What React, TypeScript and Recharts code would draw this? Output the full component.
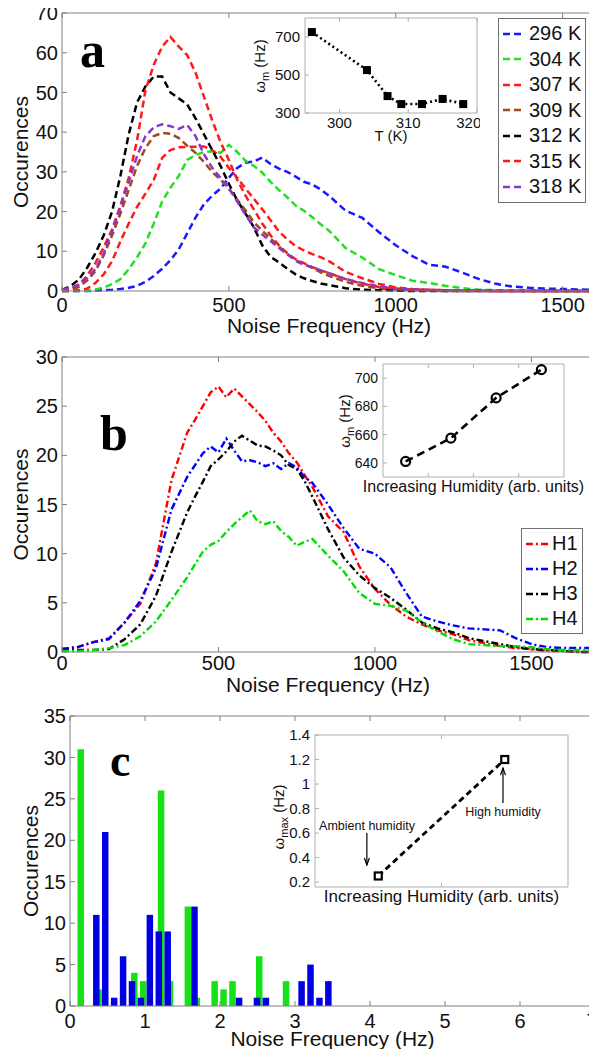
import React from 'react';
import { LineChart, Line, BarChart, Bar, XAxis, YAxis, Legend, ReferenceLine } from 'recharts';

const SANS = '"Liberation Sans", Arial, Helvetica, sans-serif';
const SERIF = '"Liberation Serif", "Times New Roman", serif';
const FRAME = '#808080';
const LIGHT = '#b0b0b0';
const INK = '#111';

// ---- panel a: occurrence histograms at several temperatures
const freqA = [0, 25, 50, 75, 100, 125, 150, 175, 200, 225, 250, 275, 300, 325, 350, 375, 400, 425, 450, 475, 500, 525, 550, 575, 600, 625, 650, 675, 700, 725, 750, 775, 800, 850, 900, 950, 1000, 1050, 1100, 1150, 1200, 1250, 1300, 1350, 1400, 1450, 1500, 1550, 1600];
const occ296 = [0, 0, 0, 0, 0.1, 0.2, 0.3, 0.5, 0.8, 1.3, 2.3, 3.8, 5.6, 7.8, 10.5, 14.5, 18.5, 21.8, 24, 25.8, 28.5, 31, 32.3, 32.6, 33.6, 32, 30.8, 30, 28.8, 27.5, 26.8, 25.6, 24, 20.2, 18.4, 14.8, 11.5, 8.8, 6.6, 6.1, 4.6, 3, 1.8, 1.1, 0.8, 0.6, 0.5, 0.4, 0.3];
const occ304 = [0, 0, 0, 0.1, 0.4, 0.9, 1.7, 3, 5.5, 8.5, 12, 17, 22.5, 26, 29, 33, 34.2, 35, 35.2, 34.8, 36.8, 35, 32.8, 31.5, 29.8, 27.5, 25.4, 23.6, 21.5, 20.2, 18.6, 16.8, 15.2, 10.8, 8.4, 5.5, 4, 2.6, 2, 1.3, 0.7, 0.3, 0.2, 0.1, 0.1, 0, 0, 0, 0];
const occ307 = [0, 0, 0.2, 0.6, 2, 4.2, 7.5, 12.5, 17, 21.2, 24.5, 28, 33.5, 35.5, 36.2, 36.3, 36.3, 36.4, 35.5, 33.8, 31, 28.5, 25.8, 23.2, 20.6, 17.8, 15, 13, 11.3, 10.2, 9.3, 8.5, 7.5, 4.8, 3.2, 1.8, 0.9, 0.5, 0.3, 0.2, 0.1, 0.1, 0, 0, 0, 0, 0, 0, 0];
const occ309 = [0, 0.4, 1, 2.6, 5, 9, 14, 19.5, 25.5, 31.5, 36, 39, 39.8, 39.6, 38.5, 36.6, 34.8, 32.5, 30, 28, 25.7, 23, 20.3, 17.3, 15.2, 13.2, 11.2, 9.3, 7.8, 6.8, 5.8, 4.7, 3.8, 2.3, 1.3, 0.7, 0.3, 0.2, 0.1, 0, 0, 0, 0, 0, 0, 0, 0, 0, 0];
const occ312 = [0.3, 1.2, 2.8, 5.8, 9.5, 14, 20, 29, 39.5, 47.5, 51.5, 54, 54, 50, 48.5, 47, 43.5, 39.5, 35.5, 31.5, 27, 22.8, 19.5, 16, 11.5, 8.6, 7.2, 5.6, 4.2, 3.2, 2.5, 1.9, 1.5, 0.7, 0.3, 0.2, 0.1, 0, 0, 0, 0, 0, 0, 0, 0, 0, 0, 0, 0];
const occ315 = [0, 0.5, 1.5, 3.8, 7, 11, 15.5, 21.5, 28.5, 38, 50.5, 57, 61.5, 64, 61.5, 59.4, 55, 49, 43, 37.5, 33, 28, 24, 20.5, 17, 14, 11.5, 9.5, 8, 7, 6, 5.2, 4.5, 3, 1.8, 1, 0.6, 0.4, 0.3, 0.2, 0.1, 0.1, 0, 0, 0, 0, 0, 0, 0];
const occ318 = [0.3, 0.8, 1.6, 3.2, 5.5, 9.5, 15, 21, 27.5, 34, 39, 41.2, 42, 41.5, 40.8, 41.8, 39, 34.5, 31, 28.5, 26, 22.5, 19.2, 16, 14.2, 12.6, 10.8, 9.3, 7.6, 6.6, 6, 5.2, 4.5, 3, 2, 1.2, 0.6, 0.4, 0.2, 0.1, 0, 0, 0, 0, 0, 0, 0, 0, 0];
const tempNames = ['296 K', '304 K', '307 K', '309 K', '312 K', '315 K', '318 K'];
const tempKeys = ['t296', 't304', 't307', 't309', 't312', 't315', 't318'];
const tempColors = ['#1a1aff', '#22e022', '#ff1a1a', '#a0481e', '#000000', '#ff1a1a', '#8a38c8'];
const tempSeries = [occ296, occ304, occ307, occ309, occ312, occ315, occ318];

// inset a: mean frequency vs temperature
const tempK = [296, 304, 307, 309, 312, 315, 318];
const omegaA = [726, 526, 389, 347, 347, 374, 347];

// ---- panel b: humidity series
const freqB = [0, 50, 100, 150, 200, 250, 300, 350, 400, 425, 450, 475, 500, 525, 550, 575, 600, 625, 650, 675, 700, 725, 750, 775, 800, 850, 900, 950, 1000, 1050, 1100, 1150, 1200, 1250, 1300, 1350, 1400, 1450, 1500, 1550, 1600, 1650, 1700];
const occH1 = [0.3, 0.5, 1, 1.4, 3, 4.9, 9, 17.5, 22.3, 23.6, 25, 26.4, 27, 25.9, 26.8, 26, 25.2, 24.4, 23.5, 22.3, 21.4, 20.2, 19.3, 18, 16.8, 13.8, 12.2, 8.7, 6.4, 4.8, 3.6, 2.8, 2.2, 1.8, 1.2, 0.9, 0.6, 0.4, 0.3, 0.1, 0.1, 0, 0];
const occH2 = [0.3, 0.5, 1, 1.3, 3, 5.2, 8.5, 14.5, 17.8, 19, 20.2, 20.9, 20.3, 21.7, 20.5, 19.4, 19.5, 19.3, 18.9, 19.2, 18.6, 19.2, 18.8, 17.8, 17.2, 15, 12.6, 10.5, 10, 8.6, 6, 3.6, 3.1, 2.7, 2.4, 2.3, 2.2, 1.4, 0.8, 0.5, 0.4, 0.4, 0.4];
const occH3 = [0.2, 0.2, 0.2, 0.3, 1.3, 2.8, 5.7, 10.2, 14.2, 15.8, 17.3, 18.9, 19.6, 20.4, 21.4, 22, 21.5, 21, 20.9, 20.5, 20, 19, 18.6, 17.4, 15.8, 12.5, 9.6, 7.8, 6.5, 5.5, 4.3, 3, 2.4, 2, 1.4, 1.1, 0.8, 0.5, 0.3, 0.2, 0.1, 0, 0];
const occH4 = [0.1, 0.1, 0.2, 0.4, 0.7, 1.6, 3.1, 5.3, 7.6, 8.9, 10.2, 10.9, 11.3, 12.2, 13, 13.7, 14.4, 13.3, 13, 13.3, 12.3, 11.7, 10.8, 11.2, 11.5, 9.8, 8.2, 6, 4.9, 4.7, 4.2, 3, 2.1, 1.3, 0.8, 0.7, 0.6, 0.6, 0.5, 0.3, 0.2, 0.2, 0.2];
const humNames = ['H1', 'H2', 'H3', 'H4'];
const humKeys = ['h1', 'h2', 'h3', 'h4'];
const humColors = ['#ff0000', '#0000ff', '#000000', '#00dd00'];
const humSeries = [occH1, occH2, occH3, occH4];

// inset b
const humStep = [1, 2, 3, 4];
const omegaB = [641, 657.5, 686, 706];

// ---- panel c: low-frequency histogram (ambient = green, high humidity = blue)
const binC = [0.133, 0.371, 0.49, 0.609, 0.728, 0.847, 0.966, 1.085, 1.204, 1.323, 1.561, 1.68, 1.918, 2.037, 2.156, 2.275, 2.513, 2.632, 2.87, 3.108, 3.227, 3.346, 3.465];
const greenC = [31, 2, 0, 0, 0, 4, 3, 0, 26, 3, 12, 1, 3, 2, 3, 0, 6, 0, 3, 0, 0, 0, 0];
const blueC = [0, 11, 21, 1, 6, 3, 1, 11, 9, 9, 0, 12, 0, 0, 0, 1, 1, 1, 0, 3, 5, 1, 3];

// inset c
const humLevel = [1, 2];
const omegaC = [0.25, 1.2];

const rowsA = freqA.map((f, i) => {
  const r: any = { f };
  tempKeys.forEach((k, j) => { r[k] = tempSeries[j][i]; });
  return r;
});
const rowsB = freqB.map((f, i) => {
  const r: any = { f };
  humKeys.forEach((k, j) => { r[k] = humSeries[j][i]; });
  return r;
});
const rowsC = binC.map((f, i) => ({ f, g: greenC[i], b: blueC[i] }));
const rowsIA = tempK.map((t, i) => ({ t, w: omegaA[i] }));
const rowsIB = humStep.map((h, i) => ({ h, w: omegaB[i] }));
const rowsIC = humLevel.map((h, i) => ({ h, w: omegaC[i] }));

const ax = { stroke: FRAME };
const axL = { stroke: LIGHT };
const tick20 = { fontSize: 20, fill: INK };
const tick15 = { fontSize: 15, fill: INK };
const tick14 = { fontSize: 14, fill: INK };
const lbl21 = { fontSize: 21, fill: INK };
const blank = () => '';

const SquareDot = (p: any) => (p.cx == null ? null : <rect key={`s${p.index}`} x={p.cx - 4} y={p.cy - 4} width={8} height={8} fill="#000" />);
const HollowSquare = (p: any) => (p.cx == null ? null : <rect key={`h${p.index}`} x={p.cx - 3.5} y={p.cy - 3.5} width={7} height={7} fill="#fff" stroke="#000" strokeWidth={2.2} />);
const Ring = (p: any) => (p.cx == null ? null : <circle key={`c${p.index}`} cx={p.cx} cy={p.cy} r={4.5} fill="none" stroke="#000" strokeWidth={2.2} />);

const arrow = (p: any) => {
  const dir = p.y2 > p.y1 ? 1 : -1;
  return (
    <g>
      <line x1={p.x1} y1={p.y1} x2={p.x2} y2={p.y2} stroke="#000" strokeWidth={1.2} />
      <path d={`M${p.x2 - 2.5},${p.y2 - dir * 7} L${p.x2},${p.y2} L${p.x2 + 2.5},${p.y2 - dir * 7}`} fill="none" stroke="#000" strokeWidth={1.2} />
    </g>
  );
};

const legendBox = (rowH: number, sample: number) => (props: any) => {
  const items = props.payload || [];
  return (
    <div style={{ border: '1px solid #707070', background: '#fff', padding: '2px 4px 2px 3px', fontSize: 20, lineHeight: `${rowH}px`, color: INK, fontFamily: SANS }}>
      {items.map((it: any) => (
        <div key={it.value} style={{ display: 'flex', alignItems: 'center', whiteSpace: 'nowrap' }}>
          <svg width={sample + 2} height={10}>
            <line x1={1} y1={5} x2={sample + 1} y2={5} stroke={it.color} strokeWidth={2.4} strokeDasharray={it.payload?.strokeDasharray} />
          </svg>
          <span style={{ marginLeft: 3 }}>{it.value}</span>
        </div>
      ))}
    </div>
  );
};

function PanelA() {
  return (
    <LineChart width={597} height={345} data={rowsA} margin={{ top: 12, right: 0, bottom: 0, left: 0 }}>
      <XAxis dataKey="f" type="number" domain={[0, 1600]} ticks={[0, 500, 1000, 1500]} height={54} tickSize={-5} tickMargin={12} axisLine={ax} tickLine={ax} tick={tick20}
        label={{ value: 'Noise Frequency (Hz)', position: 'insideBottom', offset: 12, style: lbl21 }} />
      <XAxis xAxisId="top" orientation="top" dataKey="f" type="number" domain={[0, 1600]} ticks={[0, 500, 1000, 1500]} height={1} tickSize={-5} tickFormatter={blank} axisLine={ax} tickLine={ax} />
      <YAxis type="number" domain={[0, 70]} ticks={[0, 10, 20, 30, 40, 50, 60, 70]} width={62} tickSize={-5} tickMargin={9} axisLine={ax} tickLine={ax} tick={tick20}
        label={{ value: 'Occurences', angle: -90, position: 'insideLeft', offset: 21, style: { ...lbl21, textAnchor: 'middle' } }} />
      <YAxis yAxisId="right" orientation="right" type="number" domain={[0, 70]} ticks={[0, 10, 20, 30, 40, 50, 60, 70]} width={1} tickSize={-5} tickFormatter={blank} axisLine={ax} tickLine={ax} />
      {tempKeys.map((k, j) => (
        <Line key={k} dataKey={k} name={tempNames[j]} type="linear" stroke={tempColors[j]} strokeWidth={2.5} strokeDasharray="7 4" dot={false} isAnimationActive={false} />
      ))}
      <Legend layout="vertical" align="center" verticalAlign="middle" wrapperStyle={{ left: 498, top: 18, width: 'auto' }} content={legendBox(25.5, 22)} />
      <text x={80} y={67} fontFamily={SERIF} fontWeight="bold" fontSize={50} fill="#000">a</text>
    </LineChart>
  );
}

function InsetA() {
  return (
    <LineChart width={240} height={150} data={rowsIA} margin={{ top: 17, right: 2, bottom: 0, left: 0 }}>
      <XAxis dataKey="t" type="number" domain={[295, 320]} ticks={[300, 310, 320]} height={37} tickSize={-4} tickMargin={8} axisLine={axL} tickLine={axL} tick={tick15}
        label={{ value: 'T (K)', position: 'insideBottom', offset: 9, style: { fontSize: 15, fill: INK } }} />
      <XAxis xAxisId="top" orientation="top" dataKey="t" type="number" domain={[295, 320]} ticks={[300, 310, 320]} height={1} tickSize={-4} tickFormatter={blank} axisLine={axL} tickLine={axL} />
      <YAxis type="number" domain={[300, 800]} ticks={[300, 500, 700]} width={65} tickSize={-4} tickMargin={9} axisLine={axL} tickLine={axL} tick={tick15} />
      <YAxis yAxisId="right" orientation="right" type="number" domain={[300, 800]} ticks={[300, 500, 700]} width={1} tickSize={-4} tickFormatter={blank} axisLine={axL} tickLine={axL} />
      <Line dataKey="w" type="linear" stroke="#000" strokeWidth={2.6} strokeDasharray="2 3" dot={SquareDot} isAnimationActive={false} />
      <text x={25} y={66} transform="rotate(-90 25 66)" textAnchor="middle" fontSize={15} fill={INK}>ω<tspan dy={4} fontSize={11}>m</tspan><tspan dy={-4}> (Hz)</tspan></text>
    </LineChart>
  );
}

function PanelB() {
  return (
    <LineChart width={597} height={356} data={rowsB} margin={{ top: 12, right: 2, bottom: 0, left: 0 }}>
      <XAxis dataKey="f" type="number" domain={[0, 1700]} ticks={[0, 500, 1000, 1500]} height={48} tickSize={-5} tickMargin={9} axisLine={ax} tickLine={ax} tick={tick20}
        label={{ value: 'Noise Frequency (Hz)', position: 'insideBottom', offset: 8, style: lbl21 }} />
      <XAxis xAxisId="top" orientation="top" dataKey="f" type="number" domain={[0, 1700]} ticks={[0, 500, 1000, 1500]} height={1} tickSize={-5} tickFormatter={blank} axisLine={ax} tickLine={ax} />
      <YAxis type="number" domain={[0, 30]} ticks={[0, 5, 10, 15, 20, 25, 30]} width={62} tickSize={-5} tickMargin={9} axisLine={ax} tickLine={ax} tick={tick20}
        label={{ value: 'Occurences', angle: -90, position: 'insideLeft', offset: 21, style: { ...lbl21, textAnchor: 'middle' } }} />
      <YAxis yAxisId="right" orientation="right" type="number" domain={[0, 30]} ticks={[0, 5, 10, 15, 20, 25, 30]} width={1} tickSize={-5} tickFormatter={blank} axisLine={ax} tickLine={ax} />
      {humKeys.map((k, j) => (
        <Line key={k} dataKey={k} name={humNames[j]} type="linear" stroke={humColors[j]} strokeWidth={2.4} strokeDasharray="7 3 2 3" dot={false} isAnimationActive={false} />
      ))}
      <Legend layout="vertical" align="center" verticalAlign="middle" wrapperStyle={{ left: 521, top: 184, width: 'auto' }} content={legendBox(25, 22)} />
      <text x={100} y={106} fontFamily={SERIF} fontWeight="bold" fontSize={50} fill="#000">b</text>
    </LineChart>
  );
}

function InsetB() {
  return (
    <LineChart width={267} height={150} data={rowsIB} margin={{ top: 13, right: 32, bottom: 0, left: 0 }}>
      <XAxis dataKey="h" type="number" domain={[0.5, 4.5]} ticks={[1.5, 2.5, 3.5]} height={23} tickSize={-4} tickFormatter={blank} axisLine={axL} tickLine={axL}
        label={{ value: 'Increasing Humidity (arb. units)', position: 'insideBottom', offset: 8, style: { fontSize: 16, fill: INK } }} />
      <XAxis xAxisId="top" orientation="top" dataKey="h" type="number" domain={[0.5, 4.5]} ticks={[1.5, 2.5, 3.5]} height={1} tickSize={-4} tickFormatter={blank} axisLine={axL} tickLine={axL} />
      <YAxis type="number" domain={[630, 710]} ticks={[640, 660, 680, 700]} width={53} tickSize={-4} tickMargin={9} axisLine={axL} tickLine={axL} tick={tick14} />
      <YAxis yAxisId="right" orientation="right" type="number" domain={[630, 710]} ticks={[640, 660, 680, 700]} width={1} tickSize={-4} tickFormatter={blank} axisLine={axL} tickLine={axL} />
      <Line dataKey="w" type="linear" stroke="#000" strokeWidth={2.6} strokeDasharray="8 5" dot={Ring} isAnimationActive={false} />
      <text x={20} y={71} transform="rotate(-90 20 71)" textAnchor="middle" fontSize={15} fill={INK}>ω<tspan dy={4} fontSize={11}>m</tspan><tspan dy={-4}> (Hz)</tspan></text>
    </LineChart>
  );
}

function PanelC() {
  return (
    <BarChart width={597} height={357} data={rowsC} margin={{ top: 15, right: 1, bottom: 0, left: 0 }} barGap={-8.8}>
      <XAxis dataKey="f" type="number" domain={[0, 7]} ticks={[0, 1, 2, 3, 4, 5, 6, 7]} height={51} tickSize={-5} tickMargin={13} axisLine={ax} tickLine={ax} tick={tick20}
        label={{ value: 'Noise Frequency (Hz)', position: 'insideBottom', offset: 11, style: lbl21 }} />
      <XAxis xAxisId="top" orientation="top" dataKey="f" type="number" domain={[0, 7]} ticks={[0, 1, 2, 3, 4, 5, 6, 7]} height={1} tickSize={-5} tickFormatter={blank} axisLine={ax} tickLine={ax} />
      <YAxis type="number" domain={[0, 35]} ticks={[0, 5, 10, 15, 20, 25, 30, 35]} width={70} tickSize={-5} tickMargin={9} axisLine={ax} tickLine={ax} tick={tick20}
        label={{ value: 'Occurences', angle: -90, position: 'insideLeft', offset: 31, style: { ...lbl21, textAnchor: 'middle' } }} />
      <YAxis yAxisId="right" orientation="right" type="number" domain={[0, 35]} ticks={[0, 5, 10, 15, 20, 25, 30, 35]} width={1} tickSize={-5} tickFormatter={blank} axisLine={ax} tickLine={ax} />
      <Bar dataKey="g" fill="#16e016" barSize={6.5} isAnimationActive={false} />
      <Bar dataKey="b" fill="#0000e0" barSize={6.5} isAnimationActive={false} />
      <text x={110} y={76} fontFamily={SERIF} fontWeight="bold" fontSize={46} fill="#000">c</text>
    </BarChart>
  );
}

function InsetC() {
  return (
    <LineChart width={347} height={190} data={rowsIC} margin={{ top: 14, right: 28, bottom: 0, left: 0 }}>
      <XAxis dataKey="h" type="number" domain={[0.5, 2.5]} ticks={[1.5]} height={23} tickSize={-4} tickFormatter={blank} axisLine={axL} tickLine={axL}
        label={{ value: 'Increasing Humidity (arb. units)', position: 'insideBottom', offset: 8, style: { fontSize: 17, fill: INK } }} />
      <XAxis xAxisId="top" orientation="top" dataKey="h" type="number" domain={[0.5, 2.5]} ticks={[1.5]} height={1} tickSize={-4} tickFormatter={blank} axisLine={axL} tickLine={axL} />
      <YAxis type="number" domain={[0.16, 1.4]} ticks={[0.2, 0.4, 0.6, 0.8, 1, 1.2, 1.4]} width={65} tickSize={-4} tickMargin={9} axisLine={axL} tickLine={axL} tick={tick15} />
      <YAxis yAxisId="right" orientation="right" type="number" domain={[0.16, 1.4]} ticks={[0.2, 0.4, 0.6, 0.8, 1, 1.2, 1.4]} width={1} tickSize={-4} tickFormatter={blank} axisLine={axL} tickLine={axL} />
      <ReferenceLine segment={[{ x: 0.91, y: 0.6 }, { x: 0.91, y: 0.34 }]} shape={arrow} />
      <ReferenceLine segment={[{ x: 1.986, y: 0.845 }, { x: 1.986, y: 1.13 }]} shape={arrow} />
      <Line dataKey="w" type="linear" stroke="#000" strokeWidth={2.8} strokeDasharray="6 4" dot={HollowSquare} isAnimationActive={false} />
      <text x={117} y={110} textAnchor="middle" fontSize={12.5} fill={INK}>Ambient humidity</text>
      <text x={253} y={96} textAnchor="middle" fontSize={12.5} fill={INK}>High humidity</text>
      <text x={34} y={97} transform="rotate(-90 34 97)" textAnchor="middle" fontSize={15} fill={INK}>ω<tspan dy={4} fontSize={11}>max</tspan><tspan dy={-4}> (Hz)</tspan></text>
    </LineChart>
  );
}

export default function App() {
  return (
    <div style={{ position: 'relative', width: 597, height: 1057, margin: -8, background: '#fff', fontFamily: SANS, overflow: 'hidden' }}>
      <div style={{ position: 'absolute', left: 0, top: 0 }}><PanelA /></div>
      <div style={{ position: 'absolute', left: 240, top: 0 }}><InsetA /></div>
      <div style={{ position: 'absolute', left: 0, top: 344 }}><PanelB /></div>
      <div style={{ position: 'absolute', left: 330, top: 350 }}><InsetB /></div>
      <div style={{ position: 'absolute', left: 0, top: 700 }}><PanelC /></div>
      <div style={{ position: 'absolute', left: 250, top: 720 }}><InsetC /></div>
    </div>
  );
}
